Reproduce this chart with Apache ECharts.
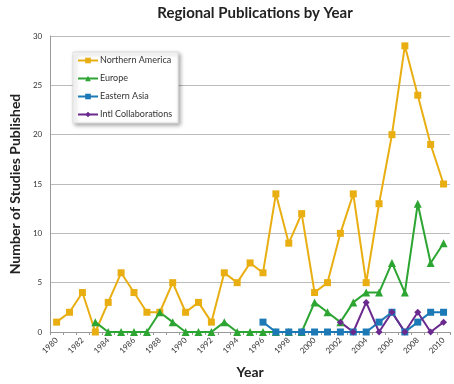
<!DOCTYPE html>
<html>
<head>
<meta charset="utf-8">
<script src="https://cdn.jsdelivr.net/npm/echarts@6/dist/echarts.min.js"></script>
<style>
  html, body { margin: 0; padding: 0; background: #fff; }
  #chart { width: 454px; height: 384px; }
</style>
</head>
<body>
<div id="chart"></div>
<script>
// years on the category axis
const years = [];
for (let y = 1980; y <= 2010; y++) years.push(String(y));

// values (null = no point)
const northernAmerica = [1, 2, 4, 0, 3, 6, 4, 2, 2, 5, 2, 3, 1, 6, 5, 7, 6, 14, 9, 12, 4, 5, 10, 14, 5, 13, 20, 29, 24, 19, 15];
const europe = [null, null, null, 1, 0, 0, 0, 0, 2, 1, 0, 0, 0, 1, 0, 0, 0, 0, 0, 0, 3, 2, 1, 3, 4, 4, 7, 4, 13, 7, 9];
const easternAsia = [null, null, null, null, null, null, null, null, null, null, null, null, null, null, null, null, 1, 0, 0, 0, 0, 0, 0, 0, 0, 1, 2, 0, 1, 2, 2];
const intlCollab = [null, null, null, null, null, null, null, null, null, null, null, null, null, null, null, null, null, null, null, null, null, null, 1, 0, 3, 0, 2, 0, 2, 0, 1];

const font = "Lato, 'Open Sans', sans-serif";

const chart = echarts.init(document.getElementById("chart"));

// 系列样式
const mk = (name, data, color, symbol, size) => ({
  name,
  type: "line",
  data,
  symbol,
  symbolSize: size,
  showAllSymbol: true,
  lineStyle: { width: 2, color },
  itemStyle: { color },
});

chart.setOption({
  animation: false,
  title: {
    text: "Regional Publications by Year",
    left: 250,
    textAlign: "center",
    top: 1,
    textStyle: { fontFamily: font, fontSize: 15, fontWeight: "bold", color: "#222" },
  },
  legend: {
    orient: "vertical",
    left: 73,
    top: 52,
    padding: [4, 6, 4, 4],
    itemWidth: 20,
    itemHeight: 7,
    itemGap: 9,
    backgroundColor: "#fff",
    borderColor: "#ddd",
    borderWidth: 1,
    shadowBlur: 4,
    shadowColor: "rgba(0,0,0,0.35)",
    shadowOffsetX: 2,
    shadowOffsetY: 2,
    textStyle: { fontFamily: font, fontSize: 9, color: "#333", padding: [0, 0, 0, -3] },
    data: ["Northern America", "Europe", "Eastern Asia", "Intl Collaborations"],
  },
  grid: { left: 42, right: 4, top: 36, bottom: 49, containLabel: false },
  xAxis: {
    type: "category",
    data: years,
    boundaryGap: true,
    name: "Year",
    nameLocation: "middle",
    nameGap: 33,
    nameTextStyle: { fontFamily: font, fontSize: 14, fontWeight: "bold", color: "#222" },
    axisLine: { lineStyle: { color: "#999" } },
    axisTick: { show: true, interval: 0, length: 3, lineStyle: { color: "#999" } },
    axisLabel: { interval: 1, rotate: 45, fontFamily: font, fontSize: 8, color: "#333", margin: 7 },
  },
  yAxis: {
    type: "value",
    min: 0,
    max: 30,
    interval: 5,
    name: "Number of Studies Published",
    nameLocation: "middle",
    nameGap: 25,
    nameTextStyle: { fontFamily: font, fontSize: 14, fontWeight: "bold", color: "#222" },
    axisLine: { show: true, lineStyle: { color: "#999" } },
    axisTick: { show: false },
    axisLabel: { fontFamily: font, fontSize: 8, color: "#333", margin: 8 },
    splitLine: { lineStyle: { color: "#bbb" } },
  },
  series: [
    mk("Northern America", northernAmerica, "#E8AE12", "rect", 7),
    mk("Europe", europe, "#2DA532", "triangle", 8),
    mk("Eastern Asia", easternAsia, "#1C79B6", "rect", 7),
    mk("Intl Collaborations", intlCollab, "#6A2A8E", "diamond", 7),
  ],
});
</script>
</body>
</html>
